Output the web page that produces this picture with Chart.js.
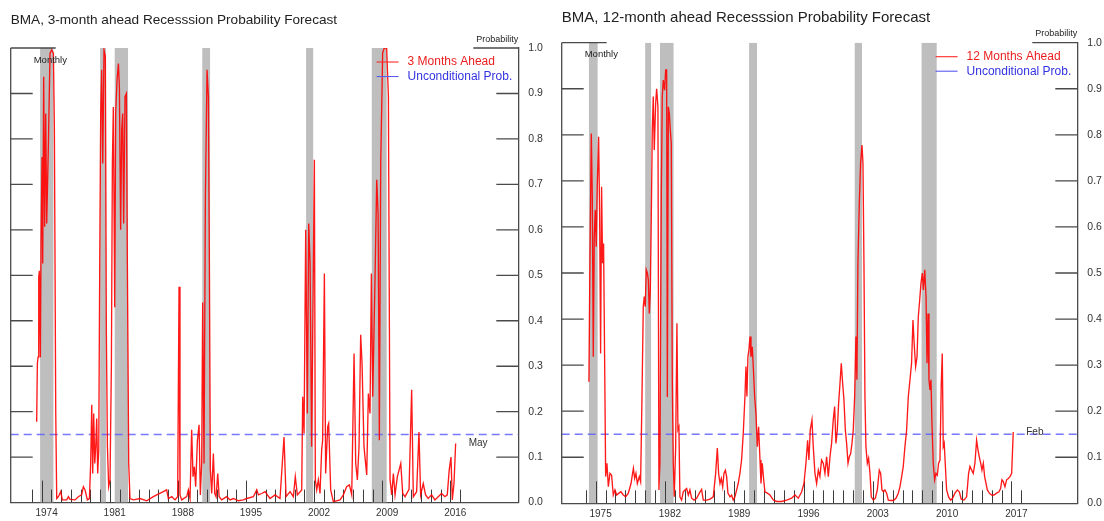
<!DOCTYPE html>
<html>
<head>
<meta charset="utf-8">
<script src="https://cdn.jsdelivr.net/npm/chart.js@4.4.0/dist/chart.umd.min.js"></script>
<style>
html,body{margin:0;padding:0;background:#fff;}
#wrap{position:relative;width:1104px;height:521px;overflow:hidden;background:#fff;}
canvas{position:absolute;top:0;}
#c1{left:0;}
#c2{left:552px;}
</style>
</head>
<body>
<div id="wrap">
<canvas id="c1" width="552" height="521" style="width:552px;height:521px"></canvas>
<canvas id="c2" width="552" height="521" style="width:552px;height:521px"></canvas>
</div>
<script>
// ---------------- DATA ----------------
// 3-month ahead forecast (decimal year, probability)
const years3 = [
1973.48,1973.55,1973.62,1973.69,1973.76,1973.86,1973.93,1974.03,1974.10,1974.20,
1974.30,1974.41,1974.51,1974.68,1974.85,1975.02,1975.20,1975.30,1975.44,1975.54,
1975.71,1975.95,1976.12,1976.57,1976.74,1976.91,1977.42,1977.76,1978.10,1978.28,
1978.45,1978.69,1978.90,1979.03,1979.14,1979.24,1979.34,1979.45,1979.55,1979.65,
1979.75,1979.86,1979.96,1980.06,1980.16,1980.27,1980.40,1980.54,1980.64,1980.75,
1980.88,1981.02,1981.16,1981.26,1981.36,1981.50,1981.60,1981.74,1981.88,1981.98,
1982.11,1982.22,1982.32,1982.42,1982.56,1982.70,1982.80,1982.94,1983.07,1983.42,
1984.10,1984.79,1985.47,1985.82,1986.50,1986.84,1987.01,1987.36,1987.70,1987.97,
1988.11,1988.21,1988.38,1988.90,1989.07,1989.24,1989.41,1989.55,1989.69,1989.82,
1990.00,1990.17,1990.30,1990.44,1990.54,1990.68,1990.82,1990.99,1991.13,1991.23,
1991.33,1991.47,1991.64,1991.78,1991.92,1992.09,1992.23,1992.49,1993.01,1993.36,
1993.70,1994.21,1994.72,1995.07,1995.75,1996.10,1996.27,1996.61,1996.95,1997.46,
1997.98,1998.49,1998.90,1999.11,1999.52,1999.86,2000.06,2000.27,2000.72,2000.82,
2000.96,2001.13,2001.30,2001.44,2001.58,2001.74,2001.92,2002.02,2002.12,2002.26,
2002.43,2002.60,2002.77,2002.87,2003.05,2003.18,2003.39,2003.49,2003.70,2003.97,
2004.66,2005.00,2005.34,2005.62,2005.86,2006.10,2006.27,2006.44,2006.61,2006.78,
2006.92,2007.12,2007.40,2007.57,2007.74,2007.88,2008.02,2008.26,2008.43,2008.57,
2008.70,2008.84,2009.04,2009.21,2009.45,2009.63,2009.80,2009.97,2010.14,2010.31,
2010.55,2010.90,2011.10,2011.34,2011.75,2012.02,2012.19,2012.53,2012.77,2012.94,
2013.21,2013.45,2013.72,2014.07,2014.41,2014.75,2015.09,2015.44,2015.68,2015.88,
2016.06,2016.20,2016.37,2016.54
];
const prob3 = [
0.178,0.306,0.32,0.497,0.51,0.32,0.57,0.76,0.526,0.937,
0.607,0.856,0.614,0.783,0.988,0.996,0.988,0.82,0.196,0.009,
0.013,0.024,0.006,0.006,0.013,0.007,0.006,0.013,0.017,0.035,
0.028,0.006,0.009,0.087,0.215,0.064,0.196,0.086,0.123,0.185,
0.064,0.116,0.526,0.856,0.952,0.746,0.996,0.981,0.38,0.123,
0.035,0.05,0.306,0.746,0.87,0.43,0.856,0.93,0.966,0.915,
0.6,0.82,0.856,0.614,0.893,0.9,0.526,0.086,0.009,0.006,
0.009,0.004,0.013,0.017,0.024,0.028,0.009,0.013,0.006,0.013,
0.475,0.017,0.006,0.013,0.028,0.009,0.16,0.057,0.079,0.035,
0.137,0.171,0.017,0.086,0.44,0.086,0.673,0.952,0.893,0.526,
0.072,0.02,0.108,0.02,0.013,0.064,0.013,0.006,0.013,0.006,
0.009,0.004,0.006,0.009,0.013,0.028,0.017,0.02,0.024,0.009,
0.017,0.009,0.144,0.013,0.024,0.013,0.057,0.017,0.028,0.233,
0.152,0.60,0.196,0.614,0.526,0.123,0.526,0.754,0.05,0.028,
0.05,0.02,0.116,0.137,0.504,0.064,0.167,0.174,0.028,0.002,
0.006,0.017,0.035,0.039,0.017,0.328,0.086,0.05,0.123,0.369,
0.306,0.123,0.061,0.24,0.196,0.504,0.233,0.50,0.71,0.636,
0.137,0.746,0.99,1.0,1.0,0.893,0.05,0.017,0.064,0.017,
0.057,0.086,0.02,0.013,0.029,0.248,0.013,0.024,0.155,0.017,
0.042,0.017,0.009,0.017,0.006,0.013,0.02,0.013,0.017,0.072,
0.10,0.006,0.042,0.13
];
// 12-month ahead forecast (decimal year, probability)
const years12 = [
1974.32,1974.42,1974.56,1974.66,1974.76,1974.86,1974.96,1975.06,1975.16,1975.30,
1975.40,1975.50,1975.60,1975.70,1975.80,1975.91,1976.01,1976.14,1976.28,1976.44,
1976.61,1976.78,1976.95,1977.12,1977.35,1977.56,1977.79,1978.03,1978.30,1978.57,
1978.81,1978.94,1979.07,1979.21,1979.41,1979.54,1979.68,1979.81,1979.91,1980.01,
1980.11,1980.22,1980.32,1980.42,1980.52,1980.62,1980.72,1980.82,1980.92,1981.06,
1981.16,1981.29,1981.39,1981.49,1981.63,1981.73,1981.83,1981.97,1982.07,1982.17,
1982.24,1982.34,1982.44,1982.54,1982.64,1982.74,1982.84,1982.94,1983.08,1983.21,
1983.31,1983.41,1983.51,1983.68,1983.85,1984.02,1984.19,1984.36,1984.52,1984.69,
1984.93,1985.20,1985.47,1985.70,1985.87,1986.21,1986.55,1986.88,1987.12,1987.29,
1987.42,1987.56,1987.69,1987.83,1987.96,1988.10,1988.23,1988.36,1988.57,1988.73,
1988.90,1989.07,1989.24,1989.40,1989.57,1989.74,1989.91,1990.08,1990.18,1990.28,
1990.38,1990.48,1990.59,1990.69,1990.82,1990.92,1991.06,1991.19,1991.33,1991.46,
1991.60,1991.70,1991.83,1991.97,1992.10,1992.34,1992.61,1992.95,1993.28,1993.79,
1994.29,1994.80,1995.13,1995.47,1995.81,1996.04,1996.24,1996.41,1996.54,1996.68,
1996.85,1996.98,1997.15,1997.32,1997.49,1997.65,1997.82,1997.99,1998.16,1998.33,
1998.50,1998.67,1998.83,1999.00,1999.14,1999.27,1999.41,1999.54,1999.68,1999.81,
1999.95,2000.08,2000.22,2000.35,2000.49,2000.62,2000.76,2000.89,2001.02,2001.16,
2001.29,2001.39,2001.49,2001.63,2001.76,2001.90,2002.00,2002.10,2002.20,2002.30,
2002.44,2002.57,2002.71,2002.84,2003.04,2003.25,2003.45,2003.65,2003.79,2003.92,
2004.06,2004.22,2004.39,2004.56,2004.80,2005.07,2005.33,2005.57,2005.74,2005.91,
2006.07,2006.24,2006.41,2006.58,2006.75,2006.91,2007.05,2007.19,2007.32,2007.46,
2007.59,2007.73,2007.86,2008.00,2008.10,2008.24,2008.37,2008.47,2008.57,2008.67,
2008.77,2008.87,2008.97,2009.10,2009.24,2009.37,2009.51,2009.64,2009.78,2009.91,
2010.01,2010.11,2010.21,2010.31,2010.45,2010.65,2010.85,2011.05,2011.29,2011.53,
2011.73,2011.93,2012.20,2012.47,2012.67,2012.81,2012.98,2013.14,2013.31,2013.48,
2013.62,2013.75,2013.89,2014.02,2014.16,2014.29,2014.43,2014.56,2014.76,2015.00,
2015.23,2015.50,2015.74,2015.90,2016.04,2016.17,2016.34,2016.51,2016.68,2016.85,
2017.02,2017.18
];
const prob12 = [
0.264,0.521,0.803,0.666,0.318,0.579,0.637,0.557,0.687,0.796,
0.63,0.325,0.687,0.521,0.564,0.304,0.058,0.087,0.036,0.065,
0.061,0.018,0.029,0.018,0.022,0.025,0.018,0.014,0.022,0.043,
0.076,0.054,0.065,0.043,0.058,0.047,0.232,0.427,0.449,0.427,
0.507,0.5,0.485,0.412,0.463,0.622,0.81,0.883,0.767,0.868,
0.9,0.861,0.029,0.087,0.666,0.883,0.919,0.897,0.941,0.941,
0.231,0.861,0.846,0.81,0.781,0.268,0.087,0.014,0.123,0.391,
0.16,0.166,0.014,0.007,0.025,0.029,0.032,0.018,0.029,0.011,
0.007,0.011,0.022,0.03,0.007,0.007,0.009,0.014,0.065,0.12,
0.065,0.043,0.054,0.036,0.065,0.072,0.058,0.022,0.014,0.018,
0.007,0.014,0.029,0.043,0.065,0.094,0.152,0.232,0.297,0.232,
0.318,0.333,0.362,0.318,0.34,0.297,0.232,0.195,0.123,0.166,
0.094,0.043,0.087,0.051,0.025,0.022,0.018,0.007,0.004,0.004,
0.007,0.011,0.018,0.011,0.025,0.043,0.087,0.137,0.094,0.16,
0.181,0.123,0.065,0.043,0.072,0.058,0.094,0.087,0.065,0.101,
0.058,0.101,0.13,0.181,0.21,0.13,0.159,0.217,0.26,0.304,
0.26,0.224,0.159,0.13,0.087,0.101,0.108,0.13,0.159,0.231,
0.362,0.268,0.521,0.651,0.738,0.778,0.738,0.521,0.232,0.123,
0.087,0.098,0.065,0.014,0.007,0.011,0.029,0.072,0.065,0.029,
0.025,0.029,0.022,0.007,0.006,0.006,0.011,0.022,0.036,0.058,
0.08,0.123,0.159,0.232,0.268,0.304,0.398,0.34,0.297,0.318,
0.405,0.441,0.478,0.5,0.463,0.507,0.449,0.304,0.412,0.268,
0.246,0.268,0.173,0.087,0.051,0.065,0.061,0.087,0.094,0.26,
0.325,0.123,0.13,0.087,0.029,0.014,0.007,0.011,0.022,0.029,
0.025,0.009,0.007,0.014,0.065,0.08,0.072,0.065,0.087,0.137,
0.116,0.101,0.087,0.072,0.087,0.058,0.043,0.029,0.022,0.018,
0.018,0.022,0.025,0.032,0.051,0.047,0.036,0.051,0.054,0.058,
0.065,0.155
];
// NBER recessions (decimal years)
const recessionStart = [1973.83, 1980.0, 1981.5, 1990.5, 2001.17, 2007.92];
const recessionEnd   = [1975.2, 1980.6, 1982.87, 1991.3, 2001.9, 2009.45];
// unconditional probability
const uncondProb = 0.15;
// labelled years (tall ticks) and yearly tick range
const labelYears3  = [1974, 1981, 1988, 1995, 2002, 2009, 2016];
const labelYears12 = [1975, 1982, 1989, 1996, 2003, 2010, 2017];
const tickRange3  = [1973, 2017];
const tickRange12 = [1974, 2018];
const yTicks = [0.0,0.1,0.2,0.3,0.4,0.5,0.6,0.7,0.8,0.9,1.0];
const lastObs3 = 'May';
const lastObs12 = 'Feb';

// ---------------- DRAWING ----------------
const FONT = '"Liberation Sans", Arial, Helvetica, sans-serif';
const AXIS = '#4a4a4a';

function makeChart(canvasId, cfg) {
  const pts = cfg.years.map((x, i) => ({x: x, y: cfg.values[i]}));
  const deco = {
    id: 'deco_' + canvasId,
    beforeDatasetsDraw(chart) {
      const {ctx, chartArea: a, scales: {x, y}} = chart;
      ctx.save();
      ctx.beginPath();
      ctx.rect(a.left, a.top, a.right - a.left, a.bottom - a.top);
      ctx.clip();
      ctx.fillStyle = '#bebebe';
      const first = cfg.years[0];
      recessionStart.forEach((s, i) => {
        const x0 = x.getPixelForValue(Math.max(s, first));
        const x1 = x.getPixelForValue(recessionEnd[i]);
        const yt = y.getPixelForValue(1), yb = y.getPixelForValue(0);
        ctx.fillRect(x0, yt, x1 - x0, yb - yt);
      });
      ctx.strokeStyle = '#3c3c3c';
      ctx.lineWidth = 1;
      for (let yr = cfg.tickRange[0]; yr <= cfg.tickRange[1]; yr++) {
        const tall = cfg.labelYears.indexOf(yr) >= 0;
        const px = Math.round(x.getPixelForValue(yr)) + 0.5;
        ctx.beginPath();
        ctx.moveTo(px, y.getPixelForValue(0));
        ctx.lineTo(px, y.getPixelForValue(0) - (tall ? 22 : 13));
        ctx.stroke();
      }
      ctx.restore();
    },
    afterDraw(chart) {
      const {ctx, chartArea: a, scales: {x, y}} = chart;
      ctx.save();
      ctx.strokeStyle = AXIS;
      ctx.lineWidth = 1.3;
      ctx.beginPath();
      ctx.moveTo(a.left, a.top); ctx.lineTo(a.left, a.bottom);
      ctx.stroke();
      yTicks.forEach(v => {
        if (v <= 0) return;
        const py = y.getPixelForValue(v);
        const len = v >= 1 ? 45 : 22;
        ctx.beginPath();
        ctx.moveTo(a.left, py); ctx.lineTo(a.left + len, py);
        ctx.moveTo(a.right, py); ctx.lineTo(a.right - len, py);
        ctx.stroke();
      });
      // corner texts
      ctx.fillStyle = '#222';
      ctx.font = '9.5px ' + FONT;
      ctx.textBaseline = 'middle';
      ctx.textAlign = 'left';
      ctx.fillText('Monthly', a.left + 23, a.top + 12);
      ctx.font = '9px ' + FONT;
      ctx.textAlign = 'right';
      ctx.fillText('Probability', a.right, a.top - 9);
      // last observation label
      const lx = x.getPixelForValue(cfg.years[cfg.years.length - 1]) + 13;
      const ly = y.getPixelForValue(cfg.values[cfg.values.length - 1]);
      ctx.font = '10px ' + FONT;
      ctx.fillStyle = '#333';
      ctx.textAlign = 'left';
      ctx.fillText(cfg.lastLabel, lx, ly);
      // legend
      ctx.font = '12px ' + FONT;
      const ds = chart.data.datasets;
      const w = Math.max(...ds.map(d => ctx.measureText(d.label).width));
      const tx = a.right - 6 - w;
      const rows = [a.top + 14, a.top + 28.5];
      const txtCol = ['rgb(235,30,30)', 'rgb(50,50,225)'];
      const lineCol = ['rgb(255,40,40)', 'rgb(90,90,240)'];
      ds.forEach((d, i) => {
        ctx.strokeStyle = lineCol[i];
        ctx.lineWidth = 1.1;
        ctx.beginPath();
        ctx.moveTo(tx - 31, rows[i]); ctx.lineTo(tx - 9, rows[i]);
        ctx.stroke();
        ctx.fillStyle = txtCol[i];
        ctx.fillText(d.label, tx, rows[i]);
      });
      ctx.restore();
    }
  };

  return new Chart(document.getElementById(canvasId), {
    type: 'line',
    data: {
      datasets: [
        {label: cfg.seriesLabel, data: pts, borderColor: 'rgba(255,0,0,0.9)', borderWidth: 1.35,
         pointRadius: 0, tension: 0, fill: false},
        {label: 'Unconditional Prob.', data: [{x: cfg.xmin, y: uncondProb}, {x: cfg.xmax, y: uncondProb}],
         borderColor: 'rgba(95,95,255,0.85)', borderWidth: 1.5, borderDash: [8, 5],
         pointRadius: 0, fill: false}
      ]
    },
    options: {
      responsive: false,
      animation: false,
      events: [],
      layout: {padding: {left: cfg.padLeft, right: 0, top: 0, bottom: 0}},
      plugins: {
        legend: {display: false},
        tooltip: {enabled: false},
        title: {
          display: true, text: cfg.title, align: 'start', color: '#222',
          font: {family: FONT, size: cfg.titleSize, weight: 'normal', lineHeight: 1.2},
          padding: {top: cfg.titleTop, bottom: cfg.titleBottom}
        }
      },
      scales: {
        x: {
          type: 'linear', min: cfg.xmin, max: cfg.xmax,
          grid: {display: false, drawTicks: false},
          border: {display: true, color: AXIS, width: 1.3},
          ticks: {
            autoSkip: false, maxRotation: 0, padding: 5, color: '#333',
            font: {family: FONT, size: 10},
            callback: v => String(Math.round(v - 0.5))
          },
          afterBuildTicks: axis => { axis.ticks = cfg.labelYears.map(yv => ({value: yv + 0.5})); },
          afterFit: axis => { axis.height = cfg.xAxisH; }
        },
        y: {
          position: 'right', min: 0, max: 1,
          grid: {display: false, drawTicks: false},
          border: {display: true, color: AXIS, width: 1.3},
          ticks: {
            autoSkip: false, padding: 10, color: '#333',
            font: {family: FONT, size: 10.5},
            callback: v => Number(v).toFixed(1)
          },
          afterBuildTicks: axis => { axis.ticks = yTicks.map(v => ({value: v})); },
          afterFit: axis => { axis.width = cfg.yAxisW; }
        }
      }
    },
    plugins: [deco]
  });
}

makeChart('c1', {
  years: years3, values: prob3, seriesLabel: '3 Months Ahead',
  title: 'BMA, 3-month ahead Recesssion Probability Forecast', titleSize: 13.6,
  titleTop: 12.2, titleBottom: 19.5,
  xmin: 1970.81, xmax: 2022.98, padLeft: 10.7, yAxisW: 33.7, xAxisH: 18.4,
  labelYears: labelYears3, tickRange: tickRange3, lastLabel: lastObs3
});
makeChart('c2', {
  years: years12, values: prob12, seriesLabel: '12 Months Ahead',
  title: 'BMA, 12-month ahead Recesssion Probability Forecast', titleSize: 15,
  titleTop: 8.8, titleBottom: 15.9,
  xmin: 1971.57, xmax: 2023.65, padLeft: 9.7, yAxisW: 26.7, xAxisH: 17.7,
  labelYears: labelYears12, tickRange: tickRange12, lastLabel: lastObs12
});
</script>
</body>
</html>
